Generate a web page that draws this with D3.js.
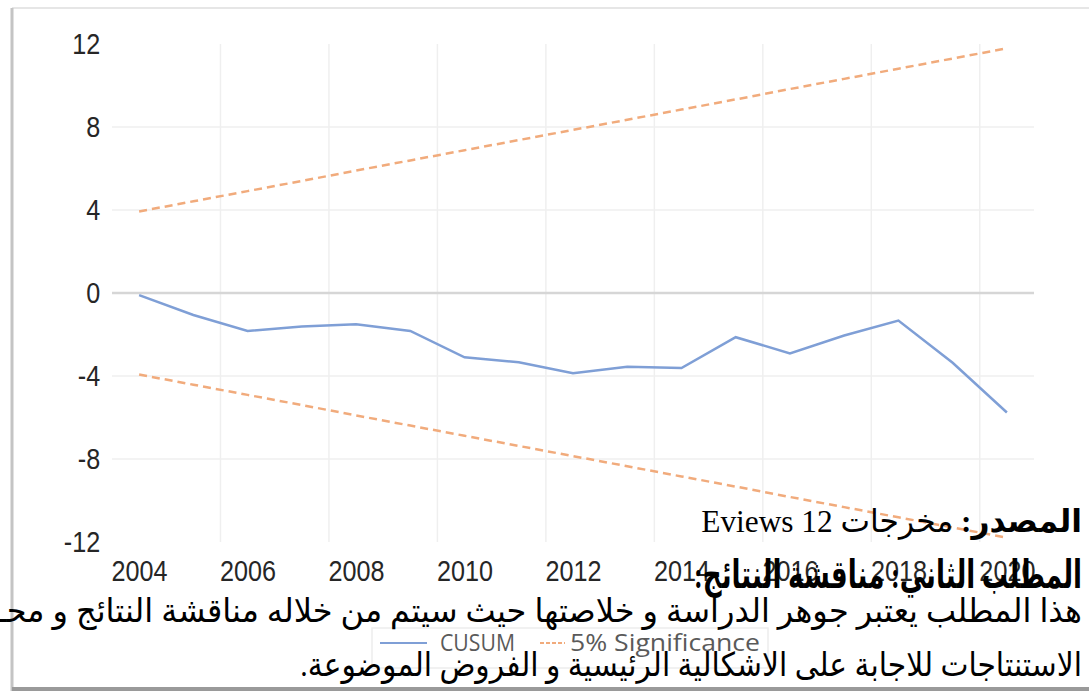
<!DOCTYPE html>
<html>
<head>
<meta charset="utf-8">
<script src="https://cdn.jsdelivr.net/npm/d3@7"></script>
<style>
  body { margin: 0; background: #fff; }
  svg { display: block; }
</style>
</head>
<body>
<div id="chart"></div>
<script>
// ---- data ----
var years = [2004, 2005, 2006, 2007, 2008, 2009, 2010, 2011, 2012, 2013, 2014, 2015, 2016, 2017, 2018, 2019, 2020];
var cusum = [-0.1, -1.06, -1.83, -1.62, -1.51, -1.83, -3.1, -3.34, -3.87, -3.55, -3.62, -2.13, -2.91, -2.05, -1.33, -3.36, -5.76];
var upper = [3.93, 4.42, 4.91, 5.4, 5.9, 6.39, 6.88, 7.37, 7.86, 8.35, 8.84, 9.33, 9.83, 10.32, 10.81, 11.3, 11.79];
var lower = [-3.93, -4.42, -4.91, -5.4, -5.9, -6.39, -6.88, -7.37, -7.86, -8.35, -8.84, -9.33, -9.83, -10.32, -10.81, -11.3, -11.79];
var xTickLabels = [2004, 2006, 2008, 2010, 2012, 2014, 2016, 2018, 2020];
var yTicks = [-12, -8, -4, 0, 4, 8, 12];
var gridYears = [2005.5, 2007.5, 2009.5, 2011.5, 2013.5, 2015.5, 2017.5, 2019.5];
var legendNames = ["CUSUM", "5% Significance"];

var sourceBold = "المصدر:";
var sourceText = " مخرجات Eviews 12";
var heading = "المطلب الثاني: مناقشة النتائج:";
var para1 = "هذا المطلب يعتبر جوهر الدراسة و خلاصتها حيث سيتم من خلاله مناقشة النتائج و محـ";
var para2 = "الاستنتاجات للاجابة على الاشكالية الرئيسية و الفروض الموضوعة.";

var width = 1089, height = 691;
var axisFont = "'Liberation Sans', Arial, sans-serif";
var arFont = "'Times New Roman', 'Liberation Serif', 'DejaVu Sans', serif";

var svg = d3.select("#chart").append("svg")
  .attr("width", width)
  .attr("height", height);

// ---- frame of the pasted picture ----
svg.append("line").attr("x1", 12).attr("x2", width).attr("y1", 8).attr("y2", 8)
  .attr("stroke", "#e6e6e6").attr("stroke-width", 2);
svg.append("line").attr("x1", 12).attr("x2", 12).attr("y1", 8).attr("y2", height)
  .attr("stroke", "#c4c4c4").attr("stroke-width", 3);
svg.append("line").attr("x1", 12).attr("x2", width).attr("y1", 689).attr("y2", 689)
  .attr("stroke", "#9a9a9a").attr("stroke-width", 4);

// ---- scales ----
var x = d3.scaleLinear().domain([2003.5, 2020.5]).range([112, 1034]);
var y = d3.scaleLinear().domain([-12, 12]).range([542, 44]);

// gridlines
svg.append("g").selectAll("line")
  .data(gridYears).enter().append("line")
  .attr("x1", function(d) { return x(d); })
  .attr("x2", function(d) { return x(d); })
  .attr("y1", y(12)).attr("y2", y(-12))
  .attr("stroke", "#efefef").attr("stroke-width", 1.5);

svg.append("g").selectAll("line")
  .data(yTicks.filter(function(d) { return d > -12 && d < 12; })).enter().append("line")
  .attr("x1", x(2003.5)).attr("x2", x(2020.5))
  .attr("y1", function(d) { return y(d); })
  .attr("y2", function(d) { return y(d); })
  .attr("stroke", function(d) { return d === 0 ? "#d6d6d6" : "#efefef"; })
  .attr("stroke-width", function(d) { return d === 0 ? 2.5 : 1.5; });

// axes (labels only) - the picture's digits are tall and narrow, so squeeze them
var yAxis = svg.append("g")
  .attr("transform", "translate(" + x(2003.5) + ",0)")
  .call(d3.axisLeft(y).tickValues(yTicks).tickSize(0).tickPadding(14).tickFormat(function(d) { return String(d); }));
var xAxis = svg.append("g")
  .attr("transform", "translate(0," + y(-12) + ")")
  .call(d3.axisBottom(x).tickValues(xTickLabels).tickSize(0).tickPadding(18).tickFormat(function(d) { return String(d); }));
[yAxis, xAxis].forEach(function(a) {
  a.select(".domain").remove();
  a.selectAll("text").attr("font-family", axisFont).attr("font-size", 30)
    .attr("fill", "#262626").attr("transform", "scale(0.84,1)");
});

// ---- lines ----
var line = function(vals) {
  return d3.line()
    .x(function(d, i) { return x(years[i]); })
    .y(function(d) { return y(d); })(vals);
};

[upper, lower].forEach(function(vals) {
  svg.append("path").attr("d", line(vals))
    .attr("fill", "none").attr("stroke", "#f1ab7c")
    .attr("stroke-width", 2.5).attr("stroke-dasharray", "8,5");
});
svg.append("path").attr("d", line(cusum))
  .attr("fill", "none").attr("stroke", "#7f9fd6").attr("stroke-width", 2.5);

// ---- legend ----
var lg = svg.append("g");
lg.append("rect").attr("x", 372).attr("y", 628).attr("width", 396).attr("height", 40)
  .attr("fill", "none").attr("stroke", "#ededed").attr("stroke-width", 1.5);
lg.append("line").attr("x1", 380).attr("x2", 427).attr("y1", 643).attr("y2", 643)
  .attr("stroke", "#7f9fd6").attr("stroke-width", 2);
lg.append("line").attr("x1", 540).attr("x2", 565).attr("y1", 643).attr("y2", 643)
  .attr("stroke", "#f1ab7c").attr("stroke-width", 2).attr("stroke-dasharray", "4,2");
lg.append("text").attr("x", 440).attr("y", 651).text(legendNames[0])
  .attr("textLength", 75).attr("lengthAdjust", "spacingAndGlyphs");
lg.append("text").attr("x", 570).attr("y", 651).text(legendNames[1])
  .attr("textLength", 190).attr("lengthAdjust", "spacingAndGlyphs");
lg.selectAll("text").attr("font-family", "'Open Sans', 'Liberation Sans', sans-serif")
  .attr("font-size", 23).attr("fill", "#5a5a5a");

// ---- the document text lying over the picture ----
function arLine(baseline, size, rightX, targetW, build) {
  var t = svg.append("text")
    .attr("x", 0).attr("y", 0)
    .attr("direction", "rtl").attr("text-anchor", "start")
    .attr("font-family", arFont).attr("font-size", size).attr("fill", "#000");
  build(t);
  var w = t.node().getBBox().width;
  t.attr("transform", "translate(" + rightX + "," + baseline + ") scale(" + (targetW / w) + ",1)");
  return t;
}

arLine(532, 32, 1082, 381, function(t) {
  t.append("tspan").attr("font-weight", "bold").text(sourceBold);
  t.append("tspan").text(sourceText);
});
arLine(588, 39, 1082, 388, function(t) {
  t.attr("font-weight", "bold").text(heading);
});
arLine(622, 33, 1082, 1086, function(t) { t.text(para1); });
arLine(676, 33, 1082, 782, function(t) { t.text(para2); });
</script>
</body>
</html>
